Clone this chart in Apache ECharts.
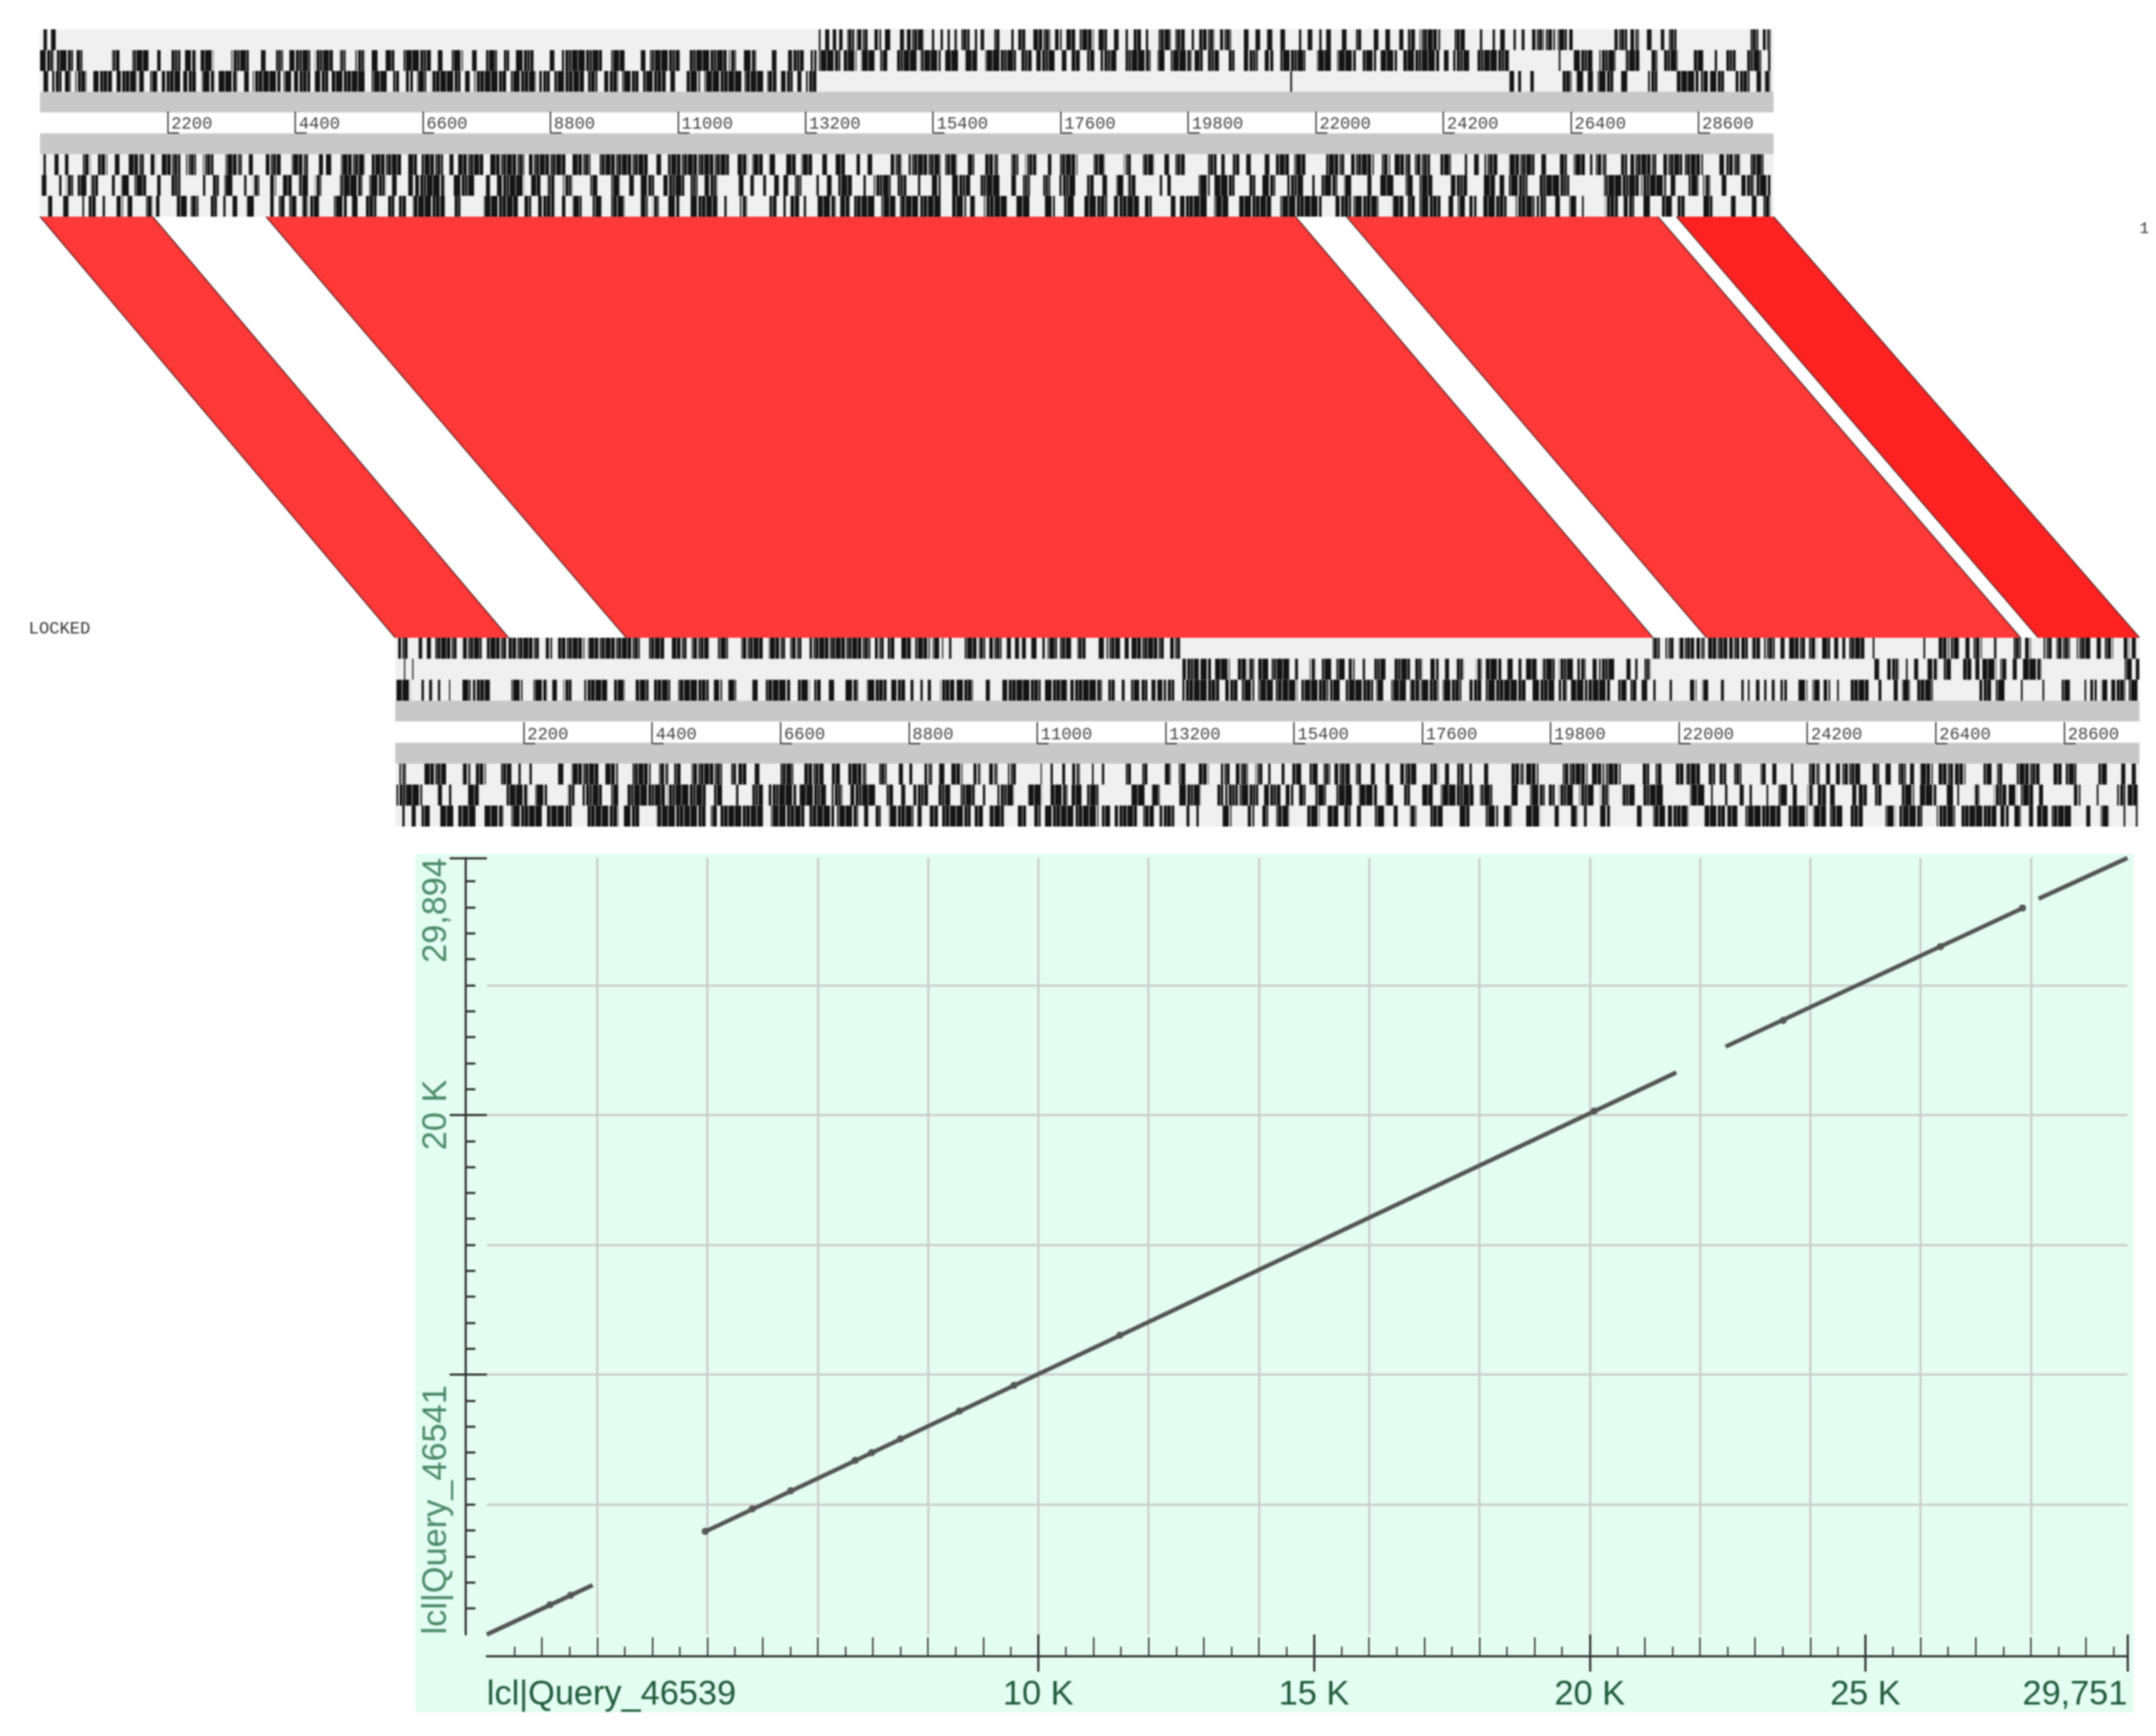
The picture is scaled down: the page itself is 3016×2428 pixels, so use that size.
<!DOCTYPE html>
<html>
<head>
<meta charset="utf-8">
<title>ACT comparison and dot plot</title>
<script src="https://cdn.jsdelivr.net/npm/echarts@6/dist/echarts.min.js"></script>
<style>
  html, body { margin: 0; padding: 0; background: #fff; }
  #chart { width: 3016px; height: 2428px; filter: blur(0.9px); }
</style>
</head>
<body>
<div id="chart"></div>
<script>
// stop codon bands per reading frame, flat start,end pairs in bases
const topF1 = [60,120,190,270,13430,13460,13540,13610,13670,13730,13780,13840,13920,14040,14080,14270,14390,14510,14570,14670,14830,14900,14940,15240,15380,15420,15530,15570,15650,15690,15770,15810,15890,16030,16120,16160,16220,16280,16440,16550,16750,16790,16870,16990,17130,17420,17500,17620,17700,17850,17930,18170,18250,18400,18520,18600,18720,18760,18860,18990,19070,19110,19270,19500,19580,19740,19860,19900,19990,20250,20350,20540,20760,20840,20960,21040,21160,21250,21390,21470,21710,21750,21860,21940,22060,22100,22180,22260,22450,22530,22690,22790,23000,23080,23200,23280,23440,23510,23590,23710,23790,24150,24390,24570,24830,24870,25050,25090,25180,25260,25410,25450,25550,25600,25730,25930,25970,26130,26170,26330,26370,26430,27150,27370,27420,27570,27710,27790,27950,28010,28090,28220,29480,29630,29710,29840];
const topF2 = [0,240,290,570,630,730,1240,1370,1590,1870,2020,2080,2260,2420,2500,2690,2770,2990,3300,3600,3810,3890,4070,4190,4300,4660,4740,5050,5170,5270,5440,5600,5720,5840,5960,6110,6270,6740,6860,6940,7100,7290,7450,7530,7690,7880,8000,8100,8200,8510,8790,8870,9000,9690,9850,10080,10360,10440,10520,11030,11190,11840,11880,12000,12130,12350,12620,12700,12900,13170,13290,13390,13430,13800,13860,14080,14160,14390,14490,14610,14770,15140,15180,15530,15610,15850,15950,16160,16300,16830,16910,17100,17180,17500,17620,17700,17790,17930,18050,18180,18290,18560,18720,19150,19270,19390,19500,19860,19910,20050,20120,20330,20490,20600,20760,21000,21120,21270,21390,21820,22020,22260,22370,22690,22810,23040,23120,23400,23510,24130,24210,24290,24370,24650,24770,25330,26190,26220,26450,26770,26890,27170,27340,27580,27790,27890,28000,28240,28520,28680,28880,28920,29080,29240,29440,29680,29800,29840];
const topF3 = [60,140,210,370,430,530,610,800,920,1240,1320,1670,1710,1790,1900,2020,2100,2420,2470,2690,2790,3010,3070,3400,3520,3600,3670,4150,4200,4340,4380,4660,4740,4970,5030,5600,5720,6000,6090,6190,6310,6430,6500,6660,6740,7250,7330,7410,7490,8040,8120,8550,8610,8790,8870,9380,9450,9610,9730,9970,10040,10320,10400,10790,10870,10950,11150,11380,11460,12110,12150,12470,12540,12700,12780,12980,13060,13130,13210,13390,21560,21590,25340,25420,25490,25540,25700,25760,26250,26410,26490,26610,26690,26780,26860,27130,27260,27370,27730,27890,28220,28600,28640,28760,28800,29040,29240,29480,29600,29680,29740,29840];
const topR1 = [60,100,250,320,430,490,740,870,1000,1160,1290,1370,1530,1790,1900,2000,2100,2420,2520,2690,2810,2990,3200,3480,3600,3670,3890,4150,4340,4620,4810,4880,4930,5030,5190,5600,5720,6230,6350,6500,6580,6950,7060,7130,7210,7650,7760,8350,8430,9060,9180,9490,9650,10480,10630,10710,10830,11880,12030,12210,12280,12470,12570,12680,12860,13050,13130,13330,13490,13570,13720,13880,14080,14140,14270,14350,14670,14860,14980,15530,15610,15810,16000,16110,16300,16520,16750,16870,16990,17180,17380,17440,17580,17890,18170,18360,18690,18810,19020,19210,19390,19470,19580,19740,20130,20290,20370,20430,20570,20680,20800,20880,21120,21200,21310,21550,21630,21840,22180,22490,22610,23000,23140,23280,23360,23630,23710,23970,24150,24330,24570,24610,24730,24810,24910,25130,25330,25770,25890,25970,26210,26330,26450,26650,26730,26770,26830,27010,27260,27370,27420,27870,27990,28320,28360,28680,28960,29040,29080,29320,29500,29720];
const topR2 = [30,110,330,370,450,570,650,800,880,1000,1240,1290,1400,1550,1630,1830,2020,2080,2260,2420,2810,2850,2970,3090,3180,3320,3520,3560,3670,3780,3970,4070,4190,4340,4460,4620,4740,4850,5170,5560,5680,5960,6070,6150,6350,6430,6470,6980,7130,7490,7690,7760,7880,8350,8470,8630,8750,8870,9020,9180,9490,9610,9850,10000,10160,10240,10360,10590,10750,11110,11220,11340,11460,11680,12050,12130,12250,12310,12470,12520,12660,12740,12820,12900,13020,13130,13390,13430,13570,13650,13760,14000,14200,14240,14380,14670,14790,14940,15140,15180,15380,15530,15730,16040,16220,16550,16750,16830,16950,17070,17300,17420,17580,17850,18050,18170,18320,18400,18560,18680,18760,18890,19310,19350,19440,19500,19980,20170,20250,20600,20840,20960,21080,21300,21510,21780,21940,21980,22100,22370,22490,22610,22890,22960,23110,23360,23550,23670,23790,24010,24330,24610,24890,25090,25170,25250,25330,25650,25850,26370,26970,27570,27610,28040,28120,28200,28430,28600,28680,28800,29000,29080,29340,29560,29600,29840];
const topR3 = [140,210,400,490,730,760,840,960,1080,1120,1320,1430,1510,1590,1830,1940,2000,2060,2360,2530,2600,2730,2930,3050,3160,3200,3320,3400,3560,3700,3970,4030,4120,4220,4300,4420,4520,4620,4660,4810,5070,5290,5380,5480,5600,5800,5990,6110,6190,6310,6430,6980,7130,7250,7650,8240,8350,8470,8590,8870,9000,9060,9180,9340,9530,9690,9850,10080,10360,10480,10560,10670,10830,11030,11220,11680,11800,11840,12070,12190,12580,12700,12820,12860,12940,13090,13170,13210,13410,13720,13800,13960,14040,14390,14510,14750,14830,15140,15180,15530,15730,15970,16040,16120,16280,16670,16830,17070,17320,17500,17660,17850,18010,18400,18520,18950,19050,19170,19500,19580,19660,20130,20250,20490,20680,21230,21390,22100,22340,22610,22650,23080,23320,23510,23590,23710,23790,24150,24290,24370,24450,24570,24650,24770,24890,25290,25450,25770,25810,25970,26130,26210,26370,26490,26590,26620,26990,27210,27310,27490,27650,27770,27970,28140,28240,28360,28680,28840,29160,29240,29520,29600,29720,29840];
const botF1 = [50,210,400,460,540,610,680,1050,1150,1480,1570,1900,1940,2460,2580,2690,2790,3240,3300,4190,4340,4620,4740,4990,5080,5370,5530,5700,5930,6300,6400,6680,6770,6960,7100,8140,8220,8370,8440,8560,8670,8860,8910,9160,9210,9320,9370,9390,9490,9530,9760,9970,10000,10110,10180,10390,10480,10550,10620,10690,10730,10830,10900,10990,11090,11130,11180,11340,11380,11590,11690,11830,12050,12150,12190,12420,12500,12570,12610,13170,13280,13450,21550,21670,21770,21910,22000,22260,22300,22440,22500,22830,22860,23040,23070,23180,23250,23390,23460,23640,23740,23810,23880,24160,24230,24360,24450,24590,24660,24730,24800,24850,24920,25200,25320,25350,26190,26220,26450,26630,26660,26800,26910,26980,27050,27190,27400,27440,27720,27860,27930,28030,28250,28390,28470,28700,28820,29050,29160,29230,29300,29440,29620,29720,29760,29830];
const botF2 = [150,170,290,310,13490,13770,13800,13980,14050,14300,14440,14580,14610,14720,14790,14960,15020,15320,15420,15470,15670,15770,15880,16050,16130,16270,16340,16440,16580,16620,16780,16970,17110,17390,17460,17600,17740,17880,17990,18060,18170,18310,18520,18620,18690,18960,19060,19150,19250,19300,19380,19560,19660,19870,19940,20190,20260,20400,20520,20590,20630,20890,21100,21170,21250,21290,21410,21510,25350,25430,25570,25770,25890,25920,26030,26100,26260,26430,26540,26660,26870,27010,27080,27150,27200,27440,27510,27610,27720,27790,27890,28210,29640,29760,29830,29890];
const botF3 = [20,260,450,490,580,630,730,770,920,940,1150,1290,1330,1620,1990,2180,2370,2600,2690,2770,2880,3020,3240,3630,3750,3930,4120,4340,4430,4710,4850,5370,5460,5600,5700,5840,6120,6210,6350,6770,6900,7100,7180,7290,7430,7520,7710,7930,8080,8420,8500,8740,8830,8880,9000,9040,9125,9180,9340,9580,9620,9900,10120,10190,10405,11060,11130,11520,11570,12110,12220,12330,12450,12500,12610,12750,12780,12890,12960,13030,13060,13210,13240,13350,13490,14120,14225,14440,14510,14720,14790,15040,15090,15460,15530,15990,16020,16200,16290,16760,16810,16930,17070,17320,17390,17550,17570,17880,17950,18270,18410,18620,18690,19380,19490,19870,19940,20080,20150,20430,20450,20820,20960,21100,21170,21280,21360,21455,21560,21600,21840,21880,22190,22300,22400,22500,22720,22770,23070,23110,23180,23210,23320,23380,23460,23500,23590,23640,23740,23850,24040,24200,24290,24410,24480,24590,24710,24740,24940,25250,25420,25470,25680,25750,25820,25960,26060,26350,27150,27360,27430,27580,27860,27890,28230,28260,28560,28700,28950,28980,29050,29160,29240,29340,29410,29650,29710,29860];
const botR1 = [70,180,490,870,1150,1290,1380,1550,1810,1990,2110,2150,2300,2340,2790,2880,3020,3490,3590,3820,4050,4380,4520,4680,4780,4900,5080,5600,5740,5840,5880,6020,6160,6240,6590,6820,7010,7340,7480,7620,7760,8070,8270,8420,8630,8700,8810,8860,9070,9200,9320,9410,9530,9720,9910,10030,10170,10320,10500,10640,11060,11080,11230,11270,11430,11480,11600,11730,11940,11970,12110,12150,12500,12610,12780,12890,13190,13290,13430,13540,13770,13940,14150,14300,14400,14610,14740,14860,14960,15000,15190,15240,15370,15530,15670,15810,15910,16020,16090,16360,16440,16550,16720,16790,16970,17040,17220,17500,17740,17880,17990,18060,18200,18310,18410,18450,18660,18730,19130,19340,19380,19590,20010,20430,20510,20720,20750,21000,21380,21490,21600,21700,21950,22090,22120,22370,22510,22620,22690,22810,22930,23070,23400,23500,23600,23670,23920,23960,24230,24410,24520,24590,24690,24760,24800,25110,25320,25430,25540,25630,25750,25890,25960,26030,26130,26350,26450,26700,26730,26910,27220,27360,27430,27540,27790,28180,28420,28560,28630,28810,29190,29340,29580,29650,29760,29830];
const botR2 = [20,460,730,800,920,960,1240,1430,1900,2270,2400,2600,2960,3070,3210,3540,3700,3820,3960,4620,4660,5320,5460,5600,5840,5880,6120,6300,6400,6870,6920,7380,7480,7660,7800,8240,8420,8530,8670,8740,8880,9130,9300,9510,9690,9930,10070,10110,10320,10600,10850,11090,11230,11520,11590,11760,11850,12050,12610,12850,12960,13100,13430,13800,14090,14190,14225,14440,14470,14790,14890,15170,15260,15390,15490,15600,15770,15950,16130,16400,16510,16830,16970,17110,17290,17390,17600,17780,17920,18480,18590,18800,19130,19240,19450,19700,19770,19870,19940,20190,20290,20540,20650,20800,21010,21240,21380,21740,22190,22440,22550,22580,22790,22830,23040,23110,23210,23250,23500,23530,23710,23850,23950,24020,24200,24300,24380,24520,24590,24670,24970,25040,25080,25220,25360,25470,25820,26030,26130,26410,26590,26700,26770,26800,27050,27150,27400,27610,27650,27790,27860,28070,28170,28240,28770,28880,29160,29190,29510,29650,29690,29860];
const botR3 = [120,160,280,350,450,590,770,1010,1080,1380,1520,1850,1990,2510,2600,3020,3280,3820,3910,4190,4480,5320,5410,5510,5560,6300,6440,7010,7100,7520,7570,7930,8035,8105,8210,8320,8460,8880,8950,9020,9160,9300,9370,9860,9930,10070,10180,10430,10670,10810,10950,11060,11130,11620,11660,12050,12110,12250,12330,12710,12820,13000,13100,13350,13560,13610,13730,13770,14180,14330,14610,14720,14860,14960,15100,15320,15630,15840,15980,16160,16260,16370,16480,16550,16790,16970,17110,17180,17390,17500,17740,17950,18240,18410,18690,18900,18990,19130,19370,19630,19870,19940,20150,20260,20370,20420,20650,20820,21280,21360,21560,21770,21810,22160,22440,22790,22830,23000,23140,23740,23880,24200,24300,24520,24590,24800,24940,25150,25540,25710,25780,26170,26420,26730,26840,27440,27510,27650,27750,27860,28000,28070,28140,28320,28390,28740,28980,29050,29230,29370,29620,29650,29830,29860];

const seqLength = 29894;
const rowNames = ["F1", "F2", "F3", "fwd", "ruler", "rev", "R1", "R2", "R3"];
const scaleTicks = [2200,4400,6600,8800,11000,13200,15400,17600,19800,22000,24200,26400,28600];

// matching blocks between the two sequences
const ribbonTopStart = [0, 3896, 22530, 28220];
const ribbonTopEnd = [1943, 21650, 27900, 29894];
const ribbonBotStart = [0, 3958, 22475, 28160];
const ribbonBotEnd = [1942, 21556, 27855, 29894];

// dot plot, null splits the segments
const dotX = [0, 1919, null, 3960, 21570, null, 22465, 27860, null, 28140, 29751];
const dotY = [0, 1900, null, 3960, 21635, null, 22630, 27970, null, 28325, 29894];
const heavyX = [1146, 1520, 3960, 4813, 5510, 6680, 6980, 7500, 8570, 9560, 11480, 20080, 23510, 26360, 27850];
const heavyY = [1140, 1510, 3970, 4830, 5530, 6700, 7000, 7530, 8600, 9590, 11520, 20150, 23640, 26480, 27970];

const xMaxDot = 29751;
const yMaxDot = 29894;
const dotXLabelValues = [0, 10000, 15000, 20000, 25000, 29751];
const dotXLabelNames = ["lcl|Query_46539", "10 K", "15 K", "20 K", "25 K", "29,751"];
const dotYLabelValues = [0, 20000, 29894];
const dotYLabelNames = ["lcl|Query_46541", "20 K", "29,894"];

const dotLine = [];
dotX.forEach((x, i) => dotLine.push(x === null ? ["-", "-"] : [x, dotY[i]]));
const heavyDots = heavyX.map((x, i) => [x, heavyY[i]]);

function steps(from, to, by) {
  const out = [];
  for (let v = from; v <= to; v += by) out.push(v);
  return out;
}

function bands(lists) {
  const out = [];
  lists.forEach((list, r) => {
    for (let i = 0; i < list.length; i += 2) out.push([list[i], list[i + 1], r]);
  });
  return out;
}

const topBands = bands([topF1, topF2, topF3, [], [], [], topR1, topR2, topR3]);
const botBands = bands([botF1, botF2, botF3, [], [], [], botR1, botR2, botR3]);

// the wide bands are runs of thin stop lines, so they get thin light slits
function slitPattern(period, slits) {
  const c = document.createElement("canvas");
  c.width = period;
  c.height = 4;
  const ctx = c.getContext("2d");
  ctx.fillStyle = "#141414";
  ctx.fillRect(0, 0, period, 4);
  slits.forEach(s => {
    ctx.fillStyle = s[2];
    ctx.fillRect(s[0], 0, s[1], 4);
  });
  return { image: c, repeat: "repeat" };
}
const bandFills = [
  slitPattern(23, [[3, 1, "#b0b0b0"], [9, 2, "#e8e8e8"], [13, 1, "#909090"], [18, 1, "#d0d0d0"]]),
  slitPattern(29, [[6, 2, "#e0e0e0"], [12, 1, "#a0a0a0"], [16, 1, "#c8c8c8"], [25, 1, "#a8a8a8"]]),
  slitPattern(31, [[4, 1, "#c0c0c0"], [14, 2, "#ececec"], [20, 1, "#909090"], [26, 1, "#d8d8d8"]])
];

const chart = echarts.init(document.getElementById("chart"));

const topPanel = { left: 56, top: 41, width: 2425, height: 262 };
const botPanel = { left: 553, top: 892, width: 2440, height: 264 };
const ruleTop = { left: 56, top: 157, width: 2425, height: 29 };
const ruleBot = { left: 553, top: 1010, width: 2440, height: 30 };
const dotGrid = { left: 681, top: 1200, width: 2295, height: 1086 };

const rowColors = ["#f0f0f0", "#f0f0f0", "#f0f0f0", "#c8c8c8", "#ffffff", "#c8c8c8", "#f0f0f0", "#f0f0f0", "#f0f0f0"];
const ribbonFill = ["#ff3838", "#ff3838", "#ff3838", "#ff2222"];
const axisInk = "#333333";

function renderBand(params, api) {
  const a = api.coord([api.value(0), api.value(2)]);
  const b = api.coord([api.value(1), api.value(2)]);
  const h = api.size([0, 1])[1];
  const w = Math.max(b[0] - a[0], 1.5);
  return {
    type: "rect",
    shape: { x: a[0], y: a[1] - h / 2, width: w, height: h },
    style: { fill: w > 8 ? bandFills[api.value(2) % 3] : "#161616" }
  };
}

function renderFoot(params, api) {
  const p = api.coord([api.value(0), 0]);
  return {
    type: "line",
    shape: { x1: p[0], y1: p[1], x2: p[0] + 16, y2: p[1] },
    style: { stroke: "#444", lineWidth: 2 }
  };
}

function renderRibbon(params, api) {
  const i = params.dataIndex;
  const y1 = topPanel.top + topPanel.height;
  const y2 = botPanel.top;
  const x1 = chart.convertToPixel({ xAxisIndex: 0 }, api.value(0));
  const x2 = chart.convertToPixel({ xAxisIndex: 0 }, api.value(1));
  const x3 = chart.convertToPixel({ xAxisIndex: 1 }, api.value(3));
  const x4 = chart.convertToPixel({ xAxisIndex: 1 }, api.value(2));
  return {
    type: "group",
    children: [
      { type: "polygon", shape: { points: [[x1, y1], [x2, y1], [x3, y2], [x4, y2]] }, style: { fill: ribbonFill[i] } },
      { type: "line", shape: { x1: x1, y1: y1, x2: x4, y2: y2 }, style: { stroke: "#5a1a1a", lineWidth: 1.5 } },
      { type: "line", shape: { x1: x2, y1: y1, x2: x3, y2: y2 }, style: { stroke: "#5a1a1a", lineWidth: 1.5 } }
    ]
  };
}

const hiddenSeqAxis = { type: "value", min: 0, max: seqLength, show: false };
const trackY = {
  type: "category",
  data: rowNames,
  inverse: true,
  axisLine: { show: false },
  axisTick: { show: false },
  axisLabel: { show: false },
  splitArea: { show: true, areaStyle: { color: rowColors } }
};
const rulerAxis = {
  type: "value",
  min: 0,
  max: seqLength,
  position: "bottom",
  axisLine: { show: false, onZero: false },
  splitLine: { show: false },
  axisTick: { show: true, inside: true, length: 30, customValues: scaleTicks, lineStyle: { color: "#444", width: 2 } },
  axisLabel: {
    show: true,
    inside: true,
    customValues: scaleTicks,
    formatter: v => String(v),
    margin: 0,
    align: "left",
    padding: [0, 0, 0, 5],
    fontFamily: "Liberation Mono",
    fontSize: 24,
    color: "#444"
  }
};
const hiddenUnitY = { type: "value", min: 0, max: 1, show: false };

function dotXAxis(extra) {
  return Object.assign({
    type: "value", gridIndex: 4, min: 0, max: xMaxDot, position: "bottom", offset: 30,
    axisLine: { show: false, onZero: false }, axisTick: { show: false }, axisLabel: { show: false }, splitLine: { show: false }
  }, extra);
}
function dotYAxis(extra) {
  return Object.assign({
    type: "value", gridIndex: 4, min: 0, max: yMaxDot, position: "left", offset: 30,
    axisLine: { show: false, onZero: false }, axisTick: { show: false }, axisLabel: { show: false }, splitLine: { show: false }
  }, extra);
}

chart.setOption({
  animation: false,
  backgroundColor: "#ffffff",
  graphic: [
    { type: "rect", z: -1, shape: { x: 581, y: 1194, width: 2404, height: 1201 }, style: { fill: "#e3fdf0" } },
    { type: "text", x: 40, y: 868, style: { text: "LOCKED", font: '24px "Liberation Mono"', fill: "#333" } },
    { type: "text", x: 2993, y: 309, style: { text: "1", font: '22px "Liberation Mono"', fill: "#333" } }
  ],
  grid: [topPanel, botPanel, ruleTop, ruleBot, dotGrid],
  xAxis: [
    Object.assign({ gridIndex: 0 }, hiddenSeqAxis),
    Object.assign({ gridIndex: 1 }, hiddenSeqAxis),
    Object.assign({ gridIndex: 2 }, rulerAxis),
    Object.assign({ gridIndex: 3 }, rulerAxis),
    dotXAxis({
      offset: 0,
      interval: 2000,
      splitLine: { show: true, showMinLine: false, showMaxLine: false, lineStyle: { color: "#cccccc", width: 3 } }
    }),
    dotXAxis({
      axisLine: { show: true, onZero: false, lineStyle: { color: axisInk, width: 3 } },
      axisTick: { show: true, inside: true, length: 13, customValues: steps(500, 29500, 1000), lineStyle: { color: axisInk, width: 2 } }
    }),
    dotXAxis({
      axisTick: { show: true, inside: true, length: 26, customValues: steps(1000, 29000, 1000), lineStyle: { color: axisInk, width: 2 } }
    }),
    dotXAxis({
      axisTick: { show: true, inside: true, length: 30, customValues: [10000, 15000, 20000, 25000, 29751], lineStyle: { color: axisInk, width: 3 } }
    }),
    dotXAxis({
      axisTick: { show: true, length: 22, customValues: [10000, 15000, 20000, 25000, 29751], lineStyle: { color: axisInk, width: 3 } },
      axisLabel: {
        show: true,
        customValues: dotXLabelValues,
        formatter: v => dotXLabelNames[dotXLabelValues.indexOf(v)],
        margin: 31,
        alignMinLabel: "left",
        alignMaxLabel: "right",
        fontFamily: "Liberation Sans",
        fontSize: 48,
        color: "#1f5a3c"
      }
    })
  ],
  yAxis: [
    Object.assign({ gridIndex: 0 }, trackY),
    Object.assign({ gridIndex: 1 }, trackY),
    Object.assign({ gridIndex: 2 }, hiddenUnitY),
    Object.assign({ gridIndex: 3 }, hiddenUnitY),
    dotYAxis({
      offset: 0,
      interval: 5000,
      splitLine: { show: true, showMinLine: false, showMaxLine: false, lineStyle: { color: "#cccccc", width: 3 } }
    }),
    dotYAxis({
      axisLine: { show: true, onZero: false, lineStyle: { color: axisInk, width: 3 } },
      axisTick: { show: true, inside: true, length: 14, customValues: steps(1000, 29000, 1000), lineStyle: { color: axisInk, width: 3 } }
    }),
    dotYAxis({
      axisTick: { show: true, inside: true, length: 30, customValues: [10000, 20000, 29894], lineStyle: { color: axisInk, width: 3 } }
    }),
    dotYAxis({
      axisTick: { show: true, length: 22, customValues: [10000, 20000, 29894], lineStyle: { color: axisInk, width: 3 } },
      axisLabel: {
        show: true,
        customValues: dotYLabelValues,
        formatter: v => dotYLabelNames[dotYLabelValues.indexOf(v)],
        rotate: 90,
        margin: 16,
        alignMinLabel: "left",
        alignMaxLabel: "right",
        fontFamily: "Liberation Sans",
        fontSize: 48,
        color: "#4a8a6a"
      }
    })
  ],
  series: [
    {
      type: "custom", name: "top frames", xAxisIndex: 0, yAxisIndex: 0, silent: true, clip: false,
      data: topBands, encode: { x: [0, 1], y: 2 }, renderItem: renderBand
    },
    {
      type: "custom", name: "bottom frames", xAxisIndex: 1, yAxisIndex: 1, silent: true, clip: false,
      data: botBands, encode: { x: [0, 1], y: 2 }, renderItem: renderBand
    },
    {
      type: "custom", name: "top ruler feet", xAxisIndex: 2, yAxisIndex: 2, silent: true,
      clip: false, data: scaleTicks.map(v => [v, 0]), renderItem: renderFoot
    },
    {
      type: "custom", name: "bottom ruler feet", xAxisIndex: 3, yAxisIndex: 3, silent: true,
      clip: false, data: scaleTicks.map(v => [v, 0]), renderItem: renderFoot
    },
    {
      type: "custom", name: "matches", coordinateSystem: "none", silent: true,
      data: ribbonTopStart.map((s, i) => [s, ribbonTopEnd[i], ribbonBotStart[i], ribbonBotEnd[i]]),
      renderItem: renderRibbon
    },
    {
      type: "line", name: "dot plot", xAxisIndex: 4, yAxisIndex: 4, silent: true,
      data: dotLine, showSymbol: false, connectNulls: false, clip: false,
      lineStyle: { color: "#555555", width: 6 }
    },
    {
      type: "scatter", name: "heavier matches", xAxisIndex: 4, yAxisIndex: 4, silent: true,
      data: heavyDots, symbolSize: 10, itemStyle: { color: "#333333" }
    }
  ]
});
</script>
</body>
</html>
